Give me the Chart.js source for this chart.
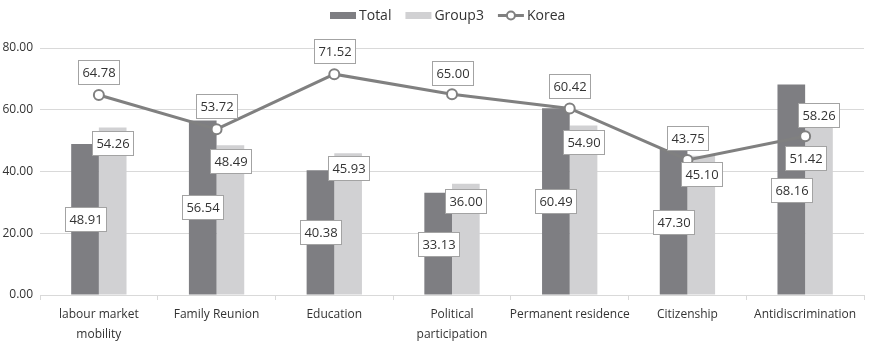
<!DOCTYPE html>
<html>
<head>
<meta charset="utf-8">
<script src="https://cdn.jsdelivr.net/npm/chart.js@4.4.1/dist/chart.umd.min.js"></script>
<style>
  html, body { margin: 0; padding: 0; background: #fff; }
  #wrap { position: relative; width: 871px; height: 342px; }
</style>
</head>
<body>
<div id="wrap"><canvas id="chart"></canvas></div>
<script>
// data
const categories = [["labour market", "mobility"], "Family Reunion", "Education", ["Political", "participation"], "Permanent residence", "Citizenship", "Antidiscrimination"];
const seriesNames = ["Total", "Group3", "Korea"];
const totalValues = [48.91, 56.54, 40.38, 33.13, 60.49, 47.30, 68.16];
const group3Values = [54.26, 48.49, 45.93, 36.00, 54.90, 45.10, 58.26];
const koreaValues = [64.78, 53.72, 71.52, 65.00, 60.42, 43.75, 51.42];
const yTicks = [0, 20, 40, 60, 80];

const FONT = '"Open Sans", "Noto Sans", sans-serif';
const DARK = '#7e7e82';
const LIGHT = '#d1d1d3';
const LINE = '#808080';

// legend drawn on the canvas, centred over the plot like Excel does
const topLegend = {
    id: 'topLegend',
    afterDraw(chart) {
        const ctx = chart.ctx;
        const area = chart.chartArea;
        ctx.save();
        ctx.font = '14px ' + FONT;
        ctx.textBaseline = 'middle';
        const iconW = 26, gap = 3, itemGap = 14, cy = 15.5;
        const widths = seriesNames.map(n => iconW + gap + ctx.measureText(n).width);
        const total = widths.reduce((a, b) => a + b, 0) + itemGap * (widths.length - 1);
        let x = Math.round((area.left + area.right) / 2 - 4 - total / 2);
        seriesNames.forEach((name, i) => {
            if (i < 2) {
                ctx.fillStyle = i === 0 ? DARK : LIGHT;
                ctx.fillRect(x, cy - 3.5, iconW, 7);
            } else {
                ctx.strokeStyle = LINE; ctx.lineWidth = 3;
                ctx.beginPath(); ctx.moveTo(x, cy); ctx.lineTo(x + iconW, cy); ctx.stroke();
                ctx.fillStyle = '#fff'; ctx.lineWidth = 2;
                ctx.beginPath(); ctx.arc(x + iconW / 2, cy, 4, 0, Math.PI * 2); ctx.fill(); ctx.stroke();
            }
            ctx.fillStyle = '#333';
            ctx.textAlign = 'left';
            ctx.fillText(name, x + iconW + gap, cy + 1);
            x += widths[i] + itemGap;
        });
        ctx.restore();
    }
};

// boxed value labels (Excel style)
const boxLabels = {
    id: 'boxLabels',
    afterDatasetsDraw(chart, args, opts) {
        const ctx = chart.ctx;
        ctx.save();
        ctx.font = '13px ' + FONT;
        ctx.textAlign = 'center';
        ctx.textBaseline = 'middle';
        chart.data.datasets.forEach((ds, di) => {
            const meta = chart.getDatasetMeta(di);
            meta.data.forEach((el, i) => {
                const x = el.x;
                let y;
                if (opts.modes[di] === 'center') y = (el.y + el.base) / 2;
                else y = el.y + opts.dy[di][i];
                const txt = ds.data[i].toFixed(2);
                const w = Math.round(ctx.measureText(txt).width + 8), h = 24;
                const bx = Math.round(x - w / 2), by = Math.round(y - h / 2);
                ctx.fillStyle = '#fff';
                ctx.fillRect(bx, by, w, h);
                ctx.strokeStyle = '#a3a3a3';
                ctx.lineWidth = 1;
                ctx.strokeRect(bx + 0.5, by + 0.5, w, h);
                ctx.fillStyle = '#333';
                ctx.fillText(txt, bx + w / 2 + 0.5, by + h / 2 + 1);
            });
        });
        ctx.restore();
    }
};

const ctx = document.getElementById('chart').getContext('2d');
new Chart(ctx, {
    type: 'bar',
    data: {
        labels: categories,
        datasets: [
            {
                label: seriesNames[0],
                data: totalValues,
                backgroundColor: DARK,
                order: 1
            },
            {
                label: seriesNames[1],
                data: group3Values,
                backgroundColor: LIGHT,
                order: 1
            },
            {
                type: 'line',
                label: seriesNames[2],
                data: koreaValues,
                borderColor: LINE,
                borderWidth: 3,
                backgroundColor: '#fff',
                pointRadius: 5,
                pointBorderWidth: 2,
                pointBackgroundColor: '#fff',
                pointBorderColor: LINE,
                order: 0,
                tension: 0
            }
        ]
    },
    options: {
        responsive: true,
        maintainAspectRatio: false,
        animation: false,
        categoryPercentage: 0.47,
        barPercentage: 1.0,
        layout: { padding: { top: 48, right: 0, left: 0, bottom: 0 } },
        plugins: {
            legend: { display: false },
            tooltip: { enabled: false },
            boxLabels: {
                modes: ['center', 'top', 'point'],
                dy: [
                    [0, 0, 0, 0, 0, 0, 0],
                    [16, 16, 15, 17, 17, 18, 0],
                    [-23, -23, -23, -21, -22, -22, 22]
                ]
            }
        },
        scales: {
            x: {
                offset: true,
                afterFit(scale) { scale.height = 47; },
                grid: {
                    display: true,
                    drawOnChartArea: false,
                    offset: true,
                    tickLength: 5,
                    color: '#d9d9d9'
                },
                border: { color: '#d9d9d9' },
                ticks: {
                    color: '#333',
                    padding: 5,
                    maxRotation: 0,
                    autoSkip: false,
                    font: { family: FONT, size: 12, lineHeight: 1.65 }
                }
            },
            y: {
                min: 0,
                max: 80,
                afterBuildTicks(scale) {
                    scale.ticks = yTicks.map(v => ({ value: v }));
                },
                afterFit(scale) { scale.width = 40; },
                grid: { color: '#d9d9d9', drawTicks: false },
                border: { display: false },
                ticks: {
                    color: '#333',
                    padding: 7,
                    font: { family: FONT, size: 12 },
                    callback: v => Number(v).toFixed(2)
                }
            }
        }
    },
    plugins: [boxLabels, topLegend]
});
</script>
</body>
</html>
